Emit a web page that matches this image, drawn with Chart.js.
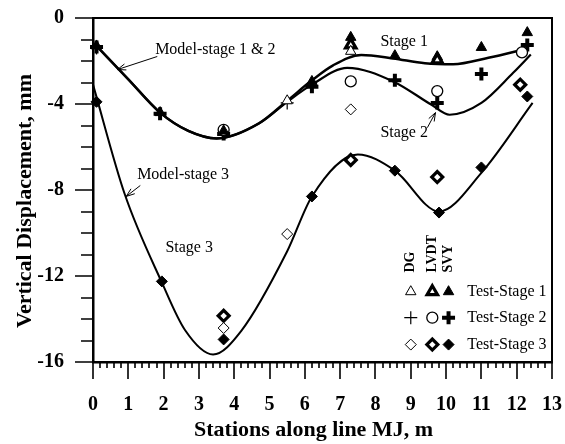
<!DOCTYPE html>
<html>
<head>
<meta charset="utf-8">
<script src="https://cdn.jsdelivr.net/npm/chart.js@4.4.0/dist/chart.umd.min.js"></script>
<style>
  html, body { margin: 0; padding: 0; background: #fff; }
</style>
</head>
<body>
<canvas id="disp" width="565" height="444"></canvas>
<script>
const FONT = "'Liberation Serif', 'Times New Roman', serif";

// measured settlements, [station (m), displacement (mm)]
const dgStage1 = [[5.5, -3.85], [7.3, -1.55]];
const lvdtStage1 = [[7.3, -1.25], [9.75, -1.95]];
const svyStage1 = [[0.1, -1.3], [1.9, -4.4], [3.7, -5.25], [6.2, -2.95], [7.3, -0.9], [8.55, -1.75], [9.75, -1.8], [11.0, -1.37], [12.3, -0.68]];

const dgStage2 = [[0.1, -1.4], [5.5, -3.95]];
const lvdtStage2 = [[3.7, -5.2], [7.3, -2.95], [9.75, -3.4], [12.15, -1.6]];
const svyStage2 = [[0.1, -1.35], [1.9, -4.45], [3.7, -5.4], [6.2, -3.2], [8.55, -2.9], [9.75, -3.95], [11.0, -2.6], [12.3, -1.25]];

const dgStage3 = [[3.7, -14.42], [5.5, -10.05], [7.3, -4.25]];
const lvdtStage3 = [[3.7, -13.85], [7.3, -6.6], [9.75, -7.4], [12.1, -3.1]];
const svyStage3 = [[0.1, -3.9], [1.95, -12.25], [3.7, -14.95], [6.2, -8.3], [8.55, -7.1], [9.8, -9.05], [11.0, -6.95], [12.3, -3.65]];

// model predictions
const modelStage1 = [[0.1, -1.3], [1.0, -2.85], [1.9, -4.4], [2.7, -5.25], [3.5, -5.6], [4.7, -4.9], [5.5, -3.85], [6.2, -2.9], [6.8, -2.2], [7.6, -1.72], [8.5, -1.88], [9.4, -2.1], [10.2, -2.15], [11.2, -1.85], [12.3, -1.42]];
const modelStage2 = [[0.1, -1.3], [1.0, -2.85], [1.9, -4.4], [2.7, -5.25], [3.5, -5.6], [4.7, -4.9], [5.5, -3.9], [6.2, -3.1], [7.2, -2.32], [8.5, -2.95], [9.6, -4.05], [10.1, -4.5], [11.0, -3.95], [11.9, -2.55], [12.4, -1.7]];
const modelStage3 = [[0.0, -3.1], [0.9, -8.2], [1.95, -12.3], [2.6, -14.5], [3.4, -15.65], [4.2, -14.55], [5.5, -10.85], [6.2, -8.3], [7.5, -6.35], [8.55, -7.1], [9.8, -9.0], [11.0, -7.2], [12.45, -3.95]];

const xTicks = [0, 1, 2, 3, 4, 5, 6, 7, 8, 9, 10, 11, 12, 13];
const yTicks = [0, -4, -8, -12, -16];

const pts = arr => arr.map(p => ({ x: p[0], y: p[1] }));

// marker looks per instrument / stage
const marks = {
  dg1:   { pointStyle: 'triangle', radius: 6, bg: '#fff', bw: 1 },
  lvdt1: { pointStyle: 'triangle', radius: 6, bg: '#fff', bw: 3.2 },
  svy1:  { pointStyle: 'triangle', radius: 6, bg: '#000', bw: 1 },
  dg2:   { pointStyle: 'cross', radius: 6.5, bg: '#000', bw: 1.2 },
  lvdt2: { pointStyle: 'circle', radius: 5.5, bg: '#fff', bw: 1.3 },
  svy2:  { pointStyle: 'cross', radius: 6.5, bg: '#000', bw: 4 },
  dg3:   { pointStyle: 'rectRot', radius: 5.5, bg: '#fff', bw: 1 },
  lvdt3: { pointStyle: 'rectRot', radius: 5.5, bg: '#fff', bw: 3.2 },
  svy3:  { pointStyle: 'rectRot', radius: 5.5, bg: '#000', bw: 1 }
};

function testSet(label, data, m) {
  return {
    label: label,
    data: pts(data),
    showLine: false,
    pointStyle: m.pointStyle,
    pointRadius: m.radius,
    pointBackgroundColor: m.bg,
    pointBorderColor: '#000',
    pointBorderWidth: m.bw,
    clip: false
  };
}

function modelSet(label, data, width) {
  return {
    label: label,
    data: pts(data),
    showLine: true,
    cubicInterpolationMode: 'monotone',
    borderColor: '#000',
    borderWidth: width,
    pointRadius: 0,
    clip: false
  };
}

function drawMark(ctx, m, px, py) {
  const opts = {
    pointStyle: m.pointStyle, radius: m.radius, rotation: 0,
    backgroundColor: m.bg, borderColor: '#000', borderWidth: m.bw
  };
  ctx.save();
  ctx.fillStyle = m.bg;
  ctx.strokeStyle = '#000';
  ctx.lineWidth = m.bw;
  Chart.helpers.drawPoint(ctx, opts, px, py);
  ctx.restore();
}

function arrow(ctx, x0, y0, x1, y1) {
  const ang = Math.atan2(y1 - y0, x1 - x0);
  const h = 9;
  ctx.beginPath();
  ctx.moveTo(x0, y0);
  ctx.lineTo(x1, y1);
  ctx.moveTo(x1 - h * Math.cos(ang - 0.35), y1 - h * Math.sin(ang - 0.35));
  ctx.lineTo(x1, y1);
  ctx.lineTo(x1 - h * Math.cos(ang + 0.35), y1 - h * Math.sin(ang + 0.35));
  ctx.stroke();
}

const decor = {
  id: 'decor',
  afterDraw(chart) {
    const { ctx, chartArea: a, scales: { x, y } } = chart;
    const X = v => x.getPixelForValue(v);
    const Y = v => y.getPixelForValue(v);
    ctx.save();
    ctx.strokeStyle = '#000';
    ctx.fillStyle = '#000';

    // top and right frame
    ctx.lineWidth = 2;
    ctx.beginPath();
    ctx.moveTo(a.left, a.top);
    ctx.lineTo(a.right, a.top);
    ctx.lineTo(a.right, a.bottom);
    ctx.stroke();

    // tick marks
    ctx.lineWidth = 1.6;
    ctx.beginPath();
    for (let i = 0; i <= 65; i++) {
      const px = Math.round(X(i / 5));
      const len = i % 5 === 0 ? 17 : 6;
      ctx.moveTo(px, a.bottom);
      ctx.lineTo(px, a.bottom + len);
    }
    for (let i = 0; i <= 16; i++) {
      const py = Math.round(Y(-i));
      const len = i % 4 === 0 ? 18 : 12;
      ctx.moveTo(a.left, py);
      ctx.lineTo(a.left - len, py);
    }
    ctx.stroke();

    // axis titles
    ctx.font = `bold 22px ${FONT}`;
    ctx.textAlign = 'center';
    ctx.textBaseline = 'middle';
    ctx.fillText('Stations along line MJ, m', (a.left + a.right) / 2 - 9, 430);
    ctx.save();
    ctx.translate(25, (a.top + a.bottom) / 2 + 11);
    ctx.rotate(-Math.PI / 2);
    ctx.fillText('Vertical Displacement, mm', 0, 0);
    ctx.restore();

    // curve labels
    ctx.font = `16px ${FONT}`;
    ctx.textAlign = 'left';
    ctx.fillText('Model-stage 1 & 2', X(1.76), Y(-1.47));
    ctx.fillText('Model-stage 3', X(1.25), Y(-7.28));
    ctx.fillText('Stage 1', X(8.14), Y(-1.09));
    ctx.fillText('Stage 2', X(8.14), Y(-5.33));
    ctx.fillText('Stage 3', X(2.05), Y(-10.68));

    ctx.lineWidth = 1;
    arrow(ctx, X(1.82), Y(-1.79), X(0.69), Y(-2.4));
    arrow(ctx, X(1.34), Y(-7.79), X(0.94), Y(-8.3));
    arrow(ctx, X(9.47), Y(-5.1), X(9.7), Y(-4.4));

    // instrument legend
    const cols = [[9.0, 'DG'], [9.61, 'LVDT'], [10.07, 'SVY']];
    ctx.font = `bold 14px ${FONT}`;
    cols.forEach(c => {
      ctx.save();
      ctx.translate(X(c[0]), Y(-11.84));
      ctx.rotate(-Math.PI / 2);
      ctx.textAlign = 'left';
      ctx.fillText(c[1], 0, 0);
      ctx.restore();
    });
    const rows = [
      [-12.73, 'Test-Stage 1', [marks.dg1, marks.lvdt1, marks.svy1]],
      [-13.94, 'Test-Stage 2', [marks.dg2, marks.lvdt2, marks.svy2]],
      [-15.19, 'Test-Stage 3', [marks.dg3, marks.lvdt3, marks.svy3]]
    ];
    rows.forEach(r => {
      r[2].forEach((m, i) => drawMark(ctx, m, X(cols[i][0]), Y(r[0])));
      ctx.font = `16px ${FONT}`;
      ctx.fillStyle = '#000';
      ctx.textAlign = 'left';
      ctx.fillText(r[1], X(10.6), Y(r[0]));
    });
    ctx.restore();
  }
};

new Chart(document.getElementById('disp'), {
  type: 'scatter',
  data: {
    datasets: [
      testSet('DG stage 1', dgStage1, marks.dg1),
      testSet('LVDT stage 1', lvdtStage1, marks.lvdt1),
      testSet('SVY stage 1', svyStage1, marks.svy1),
      testSet('DG stage 2', dgStage2, marks.dg2),
      testSet('LVDT stage 2', lvdtStage2, marks.lvdt2),
      testSet('SVY stage 2', svyStage2, marks.svy2),
      testSet('DG stage 3', dgStage3, marks.dg3),
      testSet('LVDT stage 3', lvdtStage3, marks.lvdt3),
      testSet('SVY stage 3', svyStage3, marks.svy3),
      modelSet('Model stage 1', modelStage1, 2.5),
      modelSet('Model stage 2', modelStage2, 2.2),
      modelSet('Model stage 3', modelStage3, 2)
    ]
  },
  options: {
    responsive: false,
    animation: false,
    devicePixelRatio: 1,
    layout: { padding: { top: 18, right: 13, left: 0, bottom: 0 } },
    plugins: { legend: { display: false }, tooltip: { enabled: false } },
    scales: {
      x: {
        type: 'linear', min: 0, max: 13,
        border: { color: '#000', width: 2.5 },
        // tick marks are drawn by the decor plugin; tickLength only spaces the labels
        grid: { display: false, drawTicks: true, tickLength: 31 },
        afterBuildTicks: s => { s.ticks = xTicks.map(v => ({ value: v })); },
        ticks: {
          color: '#000', padding: 0, maxRotation: 0, autoSkip: false,
          font: { family: FONT, size: 20, weight: 'bold' }
        },
        afterFit: s => { s.height = 82; }
      },
      y: {
        type: 'linear', min: -16, max: 0,
        border: { color: '#000', width: 2.5 },
        grid: { display: false, drawTicks: true, tickLength: 29 },
        afterBuildTicks: s => { s.ticks = yTicks.map(v => ({ value: v })); },
        ticks: {
          color: '#000', padding: 0,
          font: { family: FONT, size: 20, weight: 'bold' }
        },
        afterFit: s => { s.width = 93; }
      }
    }
  },
  plugins: [decor]
});
</script>
</body>
</html>
